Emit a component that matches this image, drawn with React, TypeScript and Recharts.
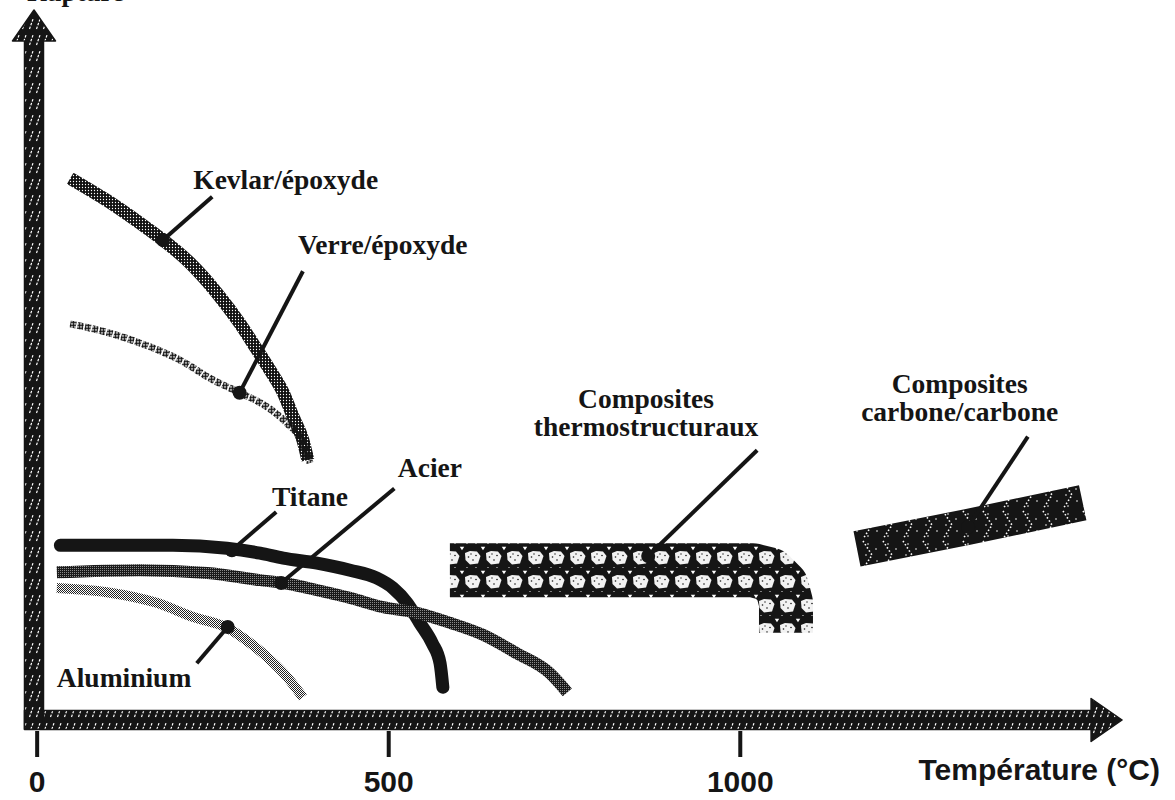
import React from 'react';
import { ComposedChart, Line, Scatter, XAxis, YAxis, ReferenceLine, ReferenceDot } from 'recharts';

// ---- series (temperature °C, relative specific strength) ----
const kevlarEpoxyde = [
  { t: 47, v: 76.3 }, { t: 99, v: 73.2 }, { t: 146, v: 70.0 }, { t: 179, v: 67.6 },
  { t: 217, v: 64.4 }, { t: 256, v: 60.1 }, { t: 288, v: 55.9 }, { t: 313, v: 52.1 },
  { t: 331, v: 49.3 }, { t: 350, v: 46.1 }, { t: 364, v: 42.7 }, { t: 378, v: 39.4 },
  { t: 385, v: 36.6 },
];
const verreEpoxyde = [
  { t: 47, v: 55.8 }, { t: 99, v: 54.6 }, { t: 146, v: 53.1 }, { t: 203, v: 50.7 },
  { t: 250, v: 47.9 }, { t: 288, v: 46.1 }, { t: 327, v: 44.1 }, { t: 355, v: 41.8 },
  { t: 378, v: 39.0 }, { t: 388, v: 36.2 },
];
const titane = [
  { t: 33, v: 24.6 }, { t: 193, v: 24.6 }, { t: 270, v: 24.2 }, { t: 317, v: 23.5 },
  { t: 350, v: 22.8 }, { t: 398, v: 22.1 }, { t: 445, v: 21.1 }, { t: 483, v: 20.0 },
  { t: 506, v: 18.6 }, { t: 526, v: 16.5 }, { t: 544, v: 13.7 }, { t: 562, v: 10.8 },
  { t: 573, v: 8.0 }, { t: 577, v: 4.6 },
];
const acier = [
  { t: 28, v: 20.8 }, { t: 146, v: 21.1 }, { t: 242, v: 20.7 }, { t: 317, v: 19.7 },
  { t: 350, v: 19.3 }, { t: 398, v: 18.3 }, { t: 445, v: 17.2 }, { t: 492, v: 15.9 },
  { t: 540, v: 15.1 }, { t: 587, v: 13.7 }, { t: 634, v: 12.0 }, { t: 682, v: 9.4 },
  { t: 729, v: 6.6 }, { t: 754, v: 3.9 },
];
const aluminium = [
  { t: 28, v: 18.6 }, { t: 99, v: 18.0 }, { t: 170, v: 16.5 }, { t: 222, v: 14.5 },
  { t: 270, v: 13.0 }, { t: 306, v: 10.6 }, { t: 331, v: 8.5 }, { t: 355, v: 6.1 },
  { t: 378, v: 3.2 },
];
const compositesThermostructuraux = [
  { t: 587, v: 21.1 }, { t: 1018, v: 21.1 }, { t: 1042, v: 20.5 }, { t: 1059, v: 18.8 },
  { t: 1065, v: 16.5 }, { t: 1065, v: 12.3 },
];
const compositesCarboneCarbone = [
  { t: 1166, v: 24.1 }, { t: 1324, v: 27.2 }, { t: 1487, v: 30.6 },
];

// ---- axes ----
const temperatureTicks = [0, 500, 1000];
const xAxisTitle = 'Température (°C)';
const yAxisTitle = 'Rupture';
const yAxisTitleAnchor = { t: -14.4, v: 101.3 };
const xDomain = [-50, 1550];
const yDomain = [0, 100];
const horizontalArrow = [{ t: -18, v: 0 }, { t: 1543, v: 0 }];
const verticalArrow = [{ t: -4.5, v: -1.3 }, { t: -4.5, v: 100 }];

// ---- annotations ----
const materialLabels = [
  { lines: ['Kevlar/époxyde'], t: 222, v: 74.8, anchor: 'start' },
  { lines: ['Verre/époxyde'], t: 371, v: 65.6, anchor: 'start' },
  { lines: ['Titane'], t: 334, v: 30.1, anchor: 'start' },
  { lines: ['Acier'], t: 513, v: 34.2, anchor: 'start' },
  { lines: ['Aluminium'], t: 28, v: 4.6, anchor: 'start' },
  { lines: ['Composites', 'thermostructuraux'], t: 866, v: 44.0, anchor: 'middle' },
  { lines: ['Composites', 'carbone/carbone'], t: 1312, v: 46.1, anchor: 'middle' },
];
const leaderLines = [
  { t1: 249, v1: 73.7, t2: 179, v2: 67.6 },
  { t1: 378, v1: 63.2, t2: 288, v2: 46.1 },
  { t1: 340, v1: 29.3, t2: 277, v2: 23.9 },
  { t1: 508, v1: 32.6, t2: 347, v2: 19.3 },
  { t1: 227, v1: 8.0, t2: 271, v2: 13.1 },
  { t1: 1024, v1: 38.0, t2: 869, v2: 23.1 },
  { t1: 1409, v1: 39.9, t2: 1324, v2: 27.2 },
];
const leaderDots = [
  { t: 179, v: 67.6 }, { t: 288, v: 46.1 }, { t: 277, v: 23.9 },
  { t: 347, v: 19.3 }, { t: 271, v: 13.1 }, { t: 869, v: 23.1 }, { t: 1324, v: 27.2 },
];

const INK = '#151515';
const SERIF = "'Liberation Serif', 'Times New Roman', Times, serif";
const SANS = "'Liberation Sans', Arial, Helvetica, sans-serif";

const arrowShape = (props: any) => {
  const { x1, y1, x2, y2 } = props;
  const dx = x2 - x1;
  const dy = y2 - y1;
  const len = Math.hypot(dx, dy) || 1;
  const ux = dx / len;
  const uy = dy / len;
  const nx = -uy;
  const ny = ux;
  const w = 9.5;
  const hw = 21.5;
  const hl = 31;
  const bx = x2 - ux * hl;
  const by = y2 - uy * hl;
  const pts = [
    [x1 + nx * w, y1 + ny * w],
    [bx + nx * w, by + ny * w],
    [bx + nx * hw, by + ny * hw],
    [x2, y2],
    [bx - nx * hw, by - ny * hw],
    [bx - nx * w, by - ny * w],
    [x1 - nx * w, y1 - ny * w],
  ];
  return (
    <polygon
      points={pts.map((p) => p.join(',')).join(' ')}
      fill="url(#axisHatch)"
      stroke={INK}
      strokeWidth={1.5}
      strokeLinejoin="round"
    />
  );
};

const renderTick = (props: any) => {
  const { x, y, payload } = props;
  return (
    <g>
      <line x1={x} x2={x} y1={y + 11} y2={y + 37} stroke={INK} strokeWidth={4} />
      <text x={x} y={y + 72} textAnchor="middle" fontFamily={SANS} fontWeight="bold" fontSize={30} fill={INK}>
        {payload.value}
      </text>
    </g>
  );
};

const renderXTitle = (props: any) => {
  const vb = props.viewBox || {};
  return (
    <text x={vb.x + vb.width + 33} y={vb.y + 60} textAnchor="end" fontFamily={SANS} fontWeight="bold" fontSize={30} fill={INK}>
      {xAxisTitle}
    </text>
  );
};

const yTitleShape = (props: any) => (
  <text x={props.cx} y={props.cy} textAnchor="start" fontFamily={SERIF} fontWeight="bold" fontSize={27} fill={INK}>
    {yAxisTitle}
  </text>
);

const labelShape = (props: any) => {
  const { cx, cy, payload } = props;
  return (
    <text x={cx} y={cy} textAnchor={payload.anchor} fontFamily={SERIF} fontWeight="bold" fontSize={27.5} fill={INK}>
      {payload.lines.map((ln: string, i: number) => (
        <tspan key={i} x={cx} dy={i === 0 ? 0 : 28}>
          {ln}
        </tspan>
      ))}
    </text>
  );
};

const dotShape = (props: any) => <circle cx={props.cx} cy={props.cy} r={7} fill={INK} />;

export default function App() {
  return (
    <div style={{ position: 'absolute', left: 0, top: 0, width: 1175, height: 800, background: '#fff' }}>
      <ComposedChart width={1175} height={800} margin={{ top: 10, right: 48, bottom: 50, left: 2 }}>
        <defs>
          <pattern id="axisHatch" width="7" height="16" patternUnits="userSpaceOnUse">
            <rect width="7" height="16" fill={INK} />
            <line x1="1.5" y1="13" x2="5" y2="3" stroke="#fff" strokeWidth="1.2" strokeDasharray="2.5 1.5" />
          </pattern>
          <pattern id="kevlarTex" width="3" height="3" patternUnits="userSpaceOnUse">
            <rect width="3" height="3" fill="#111" />
            <circle cx="1.5" cy="1.5" r="0.65" fill="#fff" />
          </pattern>
          <pattern id="verreTex" width="3" height="3" patternUnits="userSpaceOnUse">
            <circle cx="1.5" cy="1.5" r="1.4" fill={INK} />
          </pattern>
          <pattern id="acierTex" width="2" height="2" patternUnits="userSpaceOnUse">
            <rect width="2" height="2" fill="#1a1a1a" />
            <rect width="1" height="1" fill="#8a8a8a" />
          </pattern>
          <pattern id="aluTex" width="2" height="2" patternUnits="userSpaceOnUse">
            <rect width="2" height="2" fill="#fff" />
            <rect width="1" height="1" fill="#222" />
            <rect x="1" y="1" width="1" height="1" fill="#222" />
          </pattern>
          <pattern id="thermoTex" width="21" height="24" y="18" patternUnits="userSpaceOnUse">
            <rect width="21" height="24" fill={INK} />
            <polygon points="3,7 8,5 15,5.5 18.5,10 16,17.5 8,18.5 3.5,14" fill="#f2f2f2" />
            <circle cx="6.5" cy="11" r="0.8" fill={INK} />
            <circle cx="11" cy="14" r="0.8" fill={INK} />
            <circle cx="14" cy="9.5" r="0.8" fill={INK} />
            <circle cx="9" cy="8" r="0.7" fill={INK} />
            <polygon points="-2.2,0.8 2.2,0.8 0,4.2" fill="#fff" />
            <polygon points="18.8,0.8 23.2,0.8 21,4.2" fill="#fff" />
            <circle cx="5" cy="21.5" r="0.6" fill="#fff" />
            <circle cx="14" cy="21.5" r="0.6" fill="#fff" />
          </pattern>
          <pattern id="carboneTex" width="20" height="30" patternUnits="userSpaceOnUse">
            <rect width="20" height="30" fill={INK} />
            <polyline points="3,1 12,15 3,29" fill="none" stroke="#fff" strokeWidth="1.6" strokeDasharray="1.5 2.2" />
            <circle cx="8" cy="4" r="0.8" fill="#fff" />
            <circle cx="16" cy="9" r="0.8" fill="#fff" />
            <circle cx="8" cy="26" r="0.8" fill="#fff" />
            <circle cx="17" cy="21" r="0.8" fill="#fff" />
            <circle cx="6" cy="15" r="0.8" fill="#fff" />
          </pattern>
        </defs>

        <XAxis
          type="number"
          dataKey="t"
          domain={xDomain}
          ticks={temperatureTicks}
          allowDataOverflow
          axisLine={false}
          tickLine={false}
          tickSize={0}
          tickMargin={0}
          height={30}
          interval={0}
          tick={renderTick}
          label={{ content: renderXTitle }}
        />
        <YAxis
          type="number"
          dataKey="v"
          domain={yDomain}
          allowDataOverflow
          width={0}
          axisLine={false}
          tickLine={false}
          tick={false}
        />

        <ReferenceLine
          segment={[{ x: horizontalArrow[0].t, y: horizontalArrow[0].v }, { x: horizontalArrow[1].t, y: horizontalArrow[1].v }]}
          ifOverflow="visible"
          shape={arrowShape}
        />
        <ReferenceLine
          segment={[{ x: verticalArrow[0].t, y: verticalArrow[0].v }, { x: verticalArrow[1].t, y: verticalArrow[1].v }]}
          ifOverflow="visible"
          shape={arrowShape}
        />
        <ReferenceDot x={yAxisTitleAnchor.t} y={yAxisTitleAnchor.v} r={0} ifOverflow="visible" shape={yTitleShape} />

        <Line data={compositesThermostructuraux} dataKey="v" type="linear" stroke="url(#thermoTex)" strokeWidth={54} strokeLinejoin="round" strokeLinecap="butt" dot={false} activeDot={false} isAnimationActive={false} />
        <Line data={compositesCarboneCarbone} dataKey="v" type="monotone" stroke="url(#carboneTex)" strokeWidth={36} strokeLinecap="butt" dot={false} activeDot={false} isAnimationActive={false} />
        <Line data={kevlarEpoxyde} dataKey="v" type="monotone" stroke="url(#kevlarTex)" strokeWidth={13} strokeLinecap="butt" dot={false} activeDot={false} isAnimationActive={false} />
        <Line data={verreEpoxyde} dataKey="v" type="monotone" stroke="url(#verreTex)" strokeWidth={7} strokeDasharray="6 1.5" strokeLinecap="butt" dot={false} activeDot={false} isAnimationActive={false} />
        <Line data={aluminium} dataKey="v" type="monotone" stroke="url(#aluTex)" strokeWidth={10} strokeLinecap="butt" dot={false} activeDot={false} isAnimationActive={false} />
        <Line data={titane} dataKey="v" type="monotone" stroke={INK} strokeWidth={13} strokeLinecap="round" dot={false} activeDot={false} isAnimationActive={false} />
        <Line data={acier} dataKey="v" type="monotone" stroke="url(#acierTex)" strokeWidth={12} strokeLinecap="butt" dot={false} activeDot={false} isAnimationActive={false} />

        {leaderLines.map((l, i) => (
          <ReferenceLine
            key={i}
            segment={[{ x: l.t1, y: l.v1 }, { x: l.t2, y: l.v2 }]}
            ifOverflow="visible"
            stroke={INK}
            strokeWidth={4}
          />
        ))}
        <Scatter data={leaderDots} dataKey="v" shape={dotShape} isAnimationActive={false} />
        <Scatter data={materialLabels} dataKey="v" shape={labelShape} isAnimationActive={false} />
      </ComposedChart>
    </div>
  );
}
